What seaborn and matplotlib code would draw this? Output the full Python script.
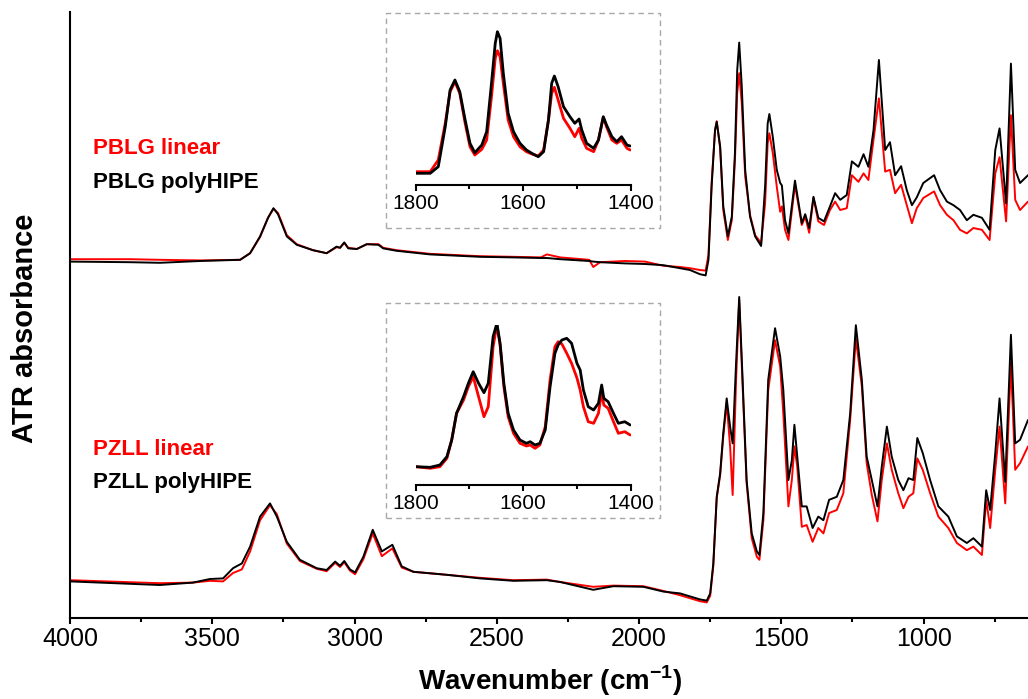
import matplotlib
matplotlib.use("Agg")
import matplotlib.pyplot as plt
import seaborn as sns
from matplotlib.ticker import MultipleLocator
from matplotlib.patches import Rectangle

# ---------------------------------------------------------------
# Data (offset ATR absorbance, a.u.)
# ---------------------------------------------------------------
PBLG_WN = [4000, 3789, 3684, 3543, 3402, 3367, 3332, 3304, 3285, 3269,
           3238, 3203, 3146, 3098, 3063, 3051, 3036, 3022, 2992, 2957,
           2916, 2899, 2852, 2735, 2559, 2443, 2345, 2324, 2277, 2175,
           2161, 2137,
           2049, 1979, 1914, 1856, 1821, 1786, 1766, 1756, 1745, 1733,
           1727, 1715, 1704, 1688, 1674, 1663, 1655, 1648, 1639, 1627,
           1610, 1592, 1571, 1557, 1548, 1542, 1530, 1516, 1504, 1498,
           1487, 1475, 1452, 1428, 1416, 1402, 1387, 1370, 1350, 1329,
           1311, 1293, 1270, 1252, 1229, 1211, 1194, 1176, 1157, 1135,
           1118, 1100, 1079, 1059, 1041, 1024, 1001, 963, 942, 918,
           895, 872, 848, 825, 795, 768, 748, 733, 710, 693,
           678, 661, 633]
PBLG_POLYHIPE = [0.594, 0.593, 0.592, 0.595, 0.597, 0.608, 0.636, 0.667, 0.683, 0.673,
                 0.636, 0.622, 0.613, 0.608, 0.619, 0.617, 0.626, 0.616, 0.615, 0.623,
                 0.622, 0.616, 0.612, 0.606, 0.602, 0.601, 0.600, 0.600, 0.598, 0.595,
                 0.594, 0.593,
                 0.591, 0.590, 0.588, 0.583, 0.580, 0.573, 0.571, 0.597, 0.719, 0.813,
                 0.827, 0.786, 0.686, 0.636, 0.669, 0.775, 0.913, 0.959, 0.886, 0.747,
                 0.669, 0.636, 0.620, 0.719, 0.824, 0.840, 0.802, 0.747, 0.725, 0.721,
                 0.663, 0.641, 0.729, 0.658, 0.673, 0.650, 0.702, 0.667, 0.661, 0.686,
                 0.708, 0.697, 0.705, 0.761, 0.752, 0.773, 0.752, 0.813, 0.930, 0.780,
                 0.793, 0.738, 0.753, 0.713, 0.688, 0.701, 0.725, 0.738, 0.713, 0.694,
                 0.688, 0.680, 0.663, 0.672, 0.667, 0.647, 0.780, 0.816, 0.691, 0.924,
                 0.747, 0.725, 0.738]
PBLG_LINEAR = [0.598, 0.598, 0.597, 0.596, 0.597, 0.608, 0.635, 0.667, 0.682, 0.675,
               0.638, 0.623, 0.613, 0.608, 0.618, 0.617, 0.625, 0.617, 0.615, 0.623,
               0.623, 0.617, 0.613, 0.607, 0.603, 0.602, 0.601, 0.606, 0.601, 0.597,
               0.585, 0.593,
               0.595, 0.594, 0.587, 0.585, 0.583, 0.580, 0.579, 0.605, 0.725, 0.813,
               0.828, 0.783, 0.680, 0.630, 0.663, 0.763, 0.875, 0.908, 0.858, 0.736,
               0.672, 0.638, 0.625, 0.691, 0.791, 0.808, 0.775, 0.719, 0.677, 0.686,
               0.647, 0.630, 0.722, 0.655, 0.669, 0.642, 0.700, 0.661, 0.655, 0.680,
               0.694, 0.680, 0.683, 0.738, 0.727, 0.741, 0.730, 0.797, 0.866, 0.744,
               0.747, 0.708, 0.722, 0.688, 0.658, 0.683, 0.700, 0.711, 0.688, 0.672,
               0.663, 0.647, 0.641, 0.650, 0.647, 0.630, 0.741, 0.768, 0.661, 0.838,
               0.697, 0.680, 0.694]

PZLL_WN = [4000, 3684, 3568, 3508, 3462, 3427, 3396, 3367, 3332, 3297,
           3273, 3238, 3192, 3133, 3098, 3068, 3051, 3036, 3016, 2998,
           2969, 2936, 2904, 2867, 2834, 2793, 2676, 2559, 2442, 2324,
           2277, 2161, 2090, 1985, 1914, 1856, 1821, 1786, 1762, 1750,
           1739, 1727, 1715, 1704, 1692, 1680, 1671, 1659, 1648, 1636,
           1622, 1604, 1586, 1577, 1563, 1546, 1522, 1504, 1493, 1475,
           1463, 1454, 1444, 1428, 1411, 1390, 1370, 1352, 1332, 1305,
           1282, 1258, 1238, 1217, 1200, 1182, 1162, 1147, 1129, 1112,
           1089, 1071, 1053, 1036, 1022, 1003, 977, 948, 913, 883,
           848, 825, 795, 780, 766, 748, 733, 713, 693, 678,
           661, 633]
PZLL_POLYHIPE = [0.061, 0.055, 0.059, 0.065, 0.066, 0.083, 0.091, 0.119, 0.169, 0.191,
                 0.169, 0.127, 0.097, 0.083, 0.080, 0.094, 0.087, 0.095, 0.081, 0.076,
                 0.102, 0.147, 0.111, 0.122, 0.086, 0.077, 0.072, 0.066, 0.062, 0.063,
                 0.060, 0.047, 0.053, 0.052, 0.044, 0.041, 0.036, 0.031, 0.029, 0.041,
                 0.091, 0.202, 0.241, 0.308, 0.366, 0.319, 0.291, 0.425, 0.535, 0.397,
                 0.230, 0.141, 0.111, 0.105, 0.175, 0.397, 0.483, 0.436, 0.380, 0.230,
                 0.263, 0.322, 0.269, 0.186, 0.186, 0.150, 0.169, 0.163, 0.197, 0.202,
                 0.230, 0.341, 0.488, 0.397, 0.269, 0.230, 0.186, 0.252, 0.319, 0.269,
                 0.230, 0.213, 0.233, 0.230, 0.300, 0.275, 0.230, 0.186, 0.169, 0.136,
                 0.125, 0.133, 0.119, 0.213, 0.180, 0.275, 0.366, 0.227, 0.472, 0.291,
                 0.297, 0.330]
PZLL_LINEAR = [0.063, 0.058, 0.059, 0.062, 0.061, 0.075, 0.081, 0.111, 0.163, 0.188,
               0.173, 0.124, 0.095, 0.082, 0.078, 0.092, 0.085, 0.093, 0.079, 0.073,
               0.098, 0.141, 0.103, 0.116, 0.084, 0.077, 0.072, 0.067, 0.063, 0.064,
               0.060, 0.052, 0.054, 0.053, 0.045, 0.038, 0.033, 0.028, 0.026, 0.037,
               0.087, 0.200, 0.238, 0.303, 0.358, 0.286, 0.205, 0.397, 0.530, 0.386,
               0.225, 0.133, 0.102, 0.097, 0.163, 0.380, 0.463, 0.419, 0.341, 0.186,
               0.230, 0.286, 0.252, 0.152, 0.155, 0.127, 0.150, 0.141, 0.175, 0.180,
               0.208, 0.330, 0.466, 0.386, 0.258, 0.205, 0.161, 0.230, 0.291, 0.247,
               0.208, 0.183, 0.202, 0.208, 0.266, 0.247, 0.208, 0.169, 0.150, 0.125,
               0.113, 0.119, 0.105, 0.197, 0.150, 0.247, 0.319, 0.191, 0.425, 0.247,
               0.258, 0.286]

# insets: 1800-1400 cm-1 zoom
INSET1_WN = [1800, 1773, 1758, 1745, 1736, 1727, 1718, 1708, 1699, 1690,
             1677, 1668, 1659, 1652, 1648, 1643, 1637, 1628, 1618, 1606,
             1594, 1584, 1572, 1562, 1553, 1547, 1542, 1535, 1525, 1513,
             1504, 1496, 1491, 1482, 1469, 1460, 1451, 1445, 1435, 1426,
             1417, 1407, 1401]
INSET1_POLYHIPE = [0.117, 0.117, 0.183, 0.583, 0.95, 1.05, 0.933, 0.65, 0.417, 0.323,
                   0.40, 0.533, 1.017, 1.417, 1.533, 1.467, 1.117, 0.717, 0.533, 0.417,
                   0.35, 0.317, 0.283, 0.333, 0.65, 1.017, 1.09, 0.983, 0.783, 0.683,
                   0.617, 0.66, 0.55, 0.417, 0.367, 0.45, 0.683, 0.60, 0.483, 0.433,
                   0.483, 0.40, 0.39]
INSET1_LINEAR = [0.133, 0.133, 0.25, 0.617, 0.933, 1.033, 0.917, 0.617, 0.383, 0.30,
                 0.357, 0.45, 0.883, 1.267, 1.343, 1.283, 1.017, 0.65, 0.483, 0.383,
                 0.333, 0.31, 0.29, 0.35, 0.65, 0.917, 0.977, 0.85, 0.667, 0.567,
                 0.483, 0.567, 0.467, 0.367, 0.333, 0.45, 0.677, 0.583, 0.45, 0.417,
                 0.45, 0.367, 0.35]

INSET2_WN = [1800, 1773, 1755, 1742, 1733, 1724, 1711, 1702, 1693, 1683,
             1673, 1665, 1656, 1649, 1643, 1636, 1628, 1618, 1606, 1594,
             1587, 1578, 1569, 1559, 1550, 1541, 1535, 1528, 1519, 1510,
             1500, 1494, 1488, 1479, 1469, 1460, 1454, 1450, 1442, 1432,
             1423, 1411, 1401]
INSET2_POLYHIPE = [0.183, 0.177, 0.20, 0.283, 0.45, 0.717, 0.883, 1.017, 1.133, 1.017,
                   0.923, 1.017, 1.483, 1.617, 1.417, 1.017, 0.717, 0.55, 0.45, 0.417,
                   0.433, 0.40, 0.417, 0.55, 0.983, 1.317, 1.40, 1.45, 1.467, 1.417,
                   1.217, 1.15, 0.95, 0.783, 0.75, 0.817, 1.0, 0.867, 0.833, 0.717,
                   0.617, 0.633, 0.60]
INSET2_LINEAR = [0.183, 0.167, 0.183, 0.267, 0.45, 0.717, 0.85, 0.983, 1.083, 0.883,
                 0.683, 0.783, 1.383, 1.60, 1.40, 0.983, 0.683, 0.517, 0.417, 0.39,
                 0.40, 0.367, 0.40, 0.583, 1.05, 1.383, 1.433, 1.41, 1.317, 1.217,
                 1.07, 0.95, 0.783, 0.633, 0.617, 0.717, 0.933, 0.80, 0.767, 0.633,
                 0.517, 0.533, 0.50]

# ---------------------------------------------------------------
# Style
# ---------------------------------------------------------------
sns.set_style("ticks")
plt.rcParams["font.family"] = ["Liberation Sans", "DejaVu Sans"]
plt.rcParams["mathtext.fontset"] = "custom"
plt.rcParams["mathtext.rm"] = "Liberation Sans"
plt.rcParams["mathtext.bf"] = "Liberation Sans:bold"
for key in ["text.color", "axes.labelcolor", "xtick.color", "ytick.color", "axes.edgecolor"]:
    plt.rcParams[key] = "black"


def draw_pair(ax, wn, linear, polyhipe, lw):
    sns.lineplot(x=wn, y=linear, ax=ax, color="#ff0000", lw=lw, estimator=None, sort=False)
    sns.lineplot(x=wn, y=polyhipe, ax=ax, color="black", lw=lw, estimator=None, sort=False)


fig = plt.figure(figsize=(10.28, 6.99), dpi=100)

# main axes
ax = fig.add_axes([70 / 1028, 1 - 618 / 699, 958 / 1028, 606 / 699])
draw_pair(ax, PBLG_WN, PBLG_LINEAR, PBLG_POLYHIPE, 1.4)
draw_pair(ax, PZLL_WN, PZLL_LINEAR, PZLL_POLYHIPE, 1.4)
ax.set_xlim(4000, 633)
ax.set_ylim(0, 1.01)
ax.set_yticks([])
ax.xaxis.set_major_locator(MultipleLocator(500))
ax.xaxis.set_minor_locator(MultipleLocator(250))
ax.tick_params(axis="x", which="major", length=4.5, width=1.5, labelsize=18, pad=2)
ax.tick_params(axis="x", which="minor", length=3, width=1.5)
for side in ["top", "right"]:
    ax.spines[side].set_visible(False)
for side in ["left", "bottom"]:
    ax.spines[side].set_linewidth(1.5)

ax.set_xlabel("Wavenumber (cm$^{\\mathbf{-1}}$)", fontsize=20, fontweight="bold")
ax.xaxis.set_label_coords(0.501, -0.075)
ax.set_ylabel("ATR absorbance", fontsize=21, fontweight="bold")
ax.yaxis.set_label_coords(-0.032, 0.478)

ax.text(3919, 0.773, "PBLG linear", color="#ff0000", fontsize=16, fontweight="bold", va="baseline")
ax.text(3919, 0.717, "PBLG polyHIPE", color="black", fontsize=16, fontweight="bold", va="baseline")
ax.text(3919, 0.272, "PZLL linear", color="#ff0000", fontsize=16, fontweight="bold", va="baseline")
ax.text(3919, 0.217, "PZLL polyHIPE", color="black", fontsize=16, fontweight="bold", va="baseline")

# insets with dashed frames
for axis_y, box_y, wn, lin, poly in [(185, 228, INSET1_WN, INSET1_LINEAR, INSET1_POLYHIPE),
                                     (485, 518, INSET2_WN, INSET2_LINEAR, INSET2_POLYHIPE)]:
    fig.add_artist(Rectangle((386 / 1028, 1 - box_y / 699), 274 / 1028, 215 / 699,
                             transform=fig.transFigure, fill=False, ec="#a8a8a8",
                             lw=1.0, ls=(0, (4, 3))))
    ins = fig.add_axes([415.7 / 1028, 1 - axis_y / 699, 215 / 1028, 160 / 699])
    ins.set_facecolor("none")
    draw_pair(ins, wn, lin, poly, 2.0)
    ins.set_xlim(1800, 1400)
    ins.set_ylim(0, 1.6)
    ins.set_yticks([])
    ins.set_xlabel("")
    ins.xaxis.set_major_locator(MultipleLocator(200))
    ins.xaxis.set_minor_locator(MultipleLocator(100))
    ins.tick_params(axis="x", which="major", length=4, width=1.5, labelsize=15, pad=2.5)
    ins.tick_params(axis="x", which="minor", length=3, width=1.5)
    for side in ["top", "right", "left"]:
        ins.spines[side].set_visible(False)
    ins.spines["bottom"].set_linewidth(1.5)

fig.savefig("out.png", dpi=100)
